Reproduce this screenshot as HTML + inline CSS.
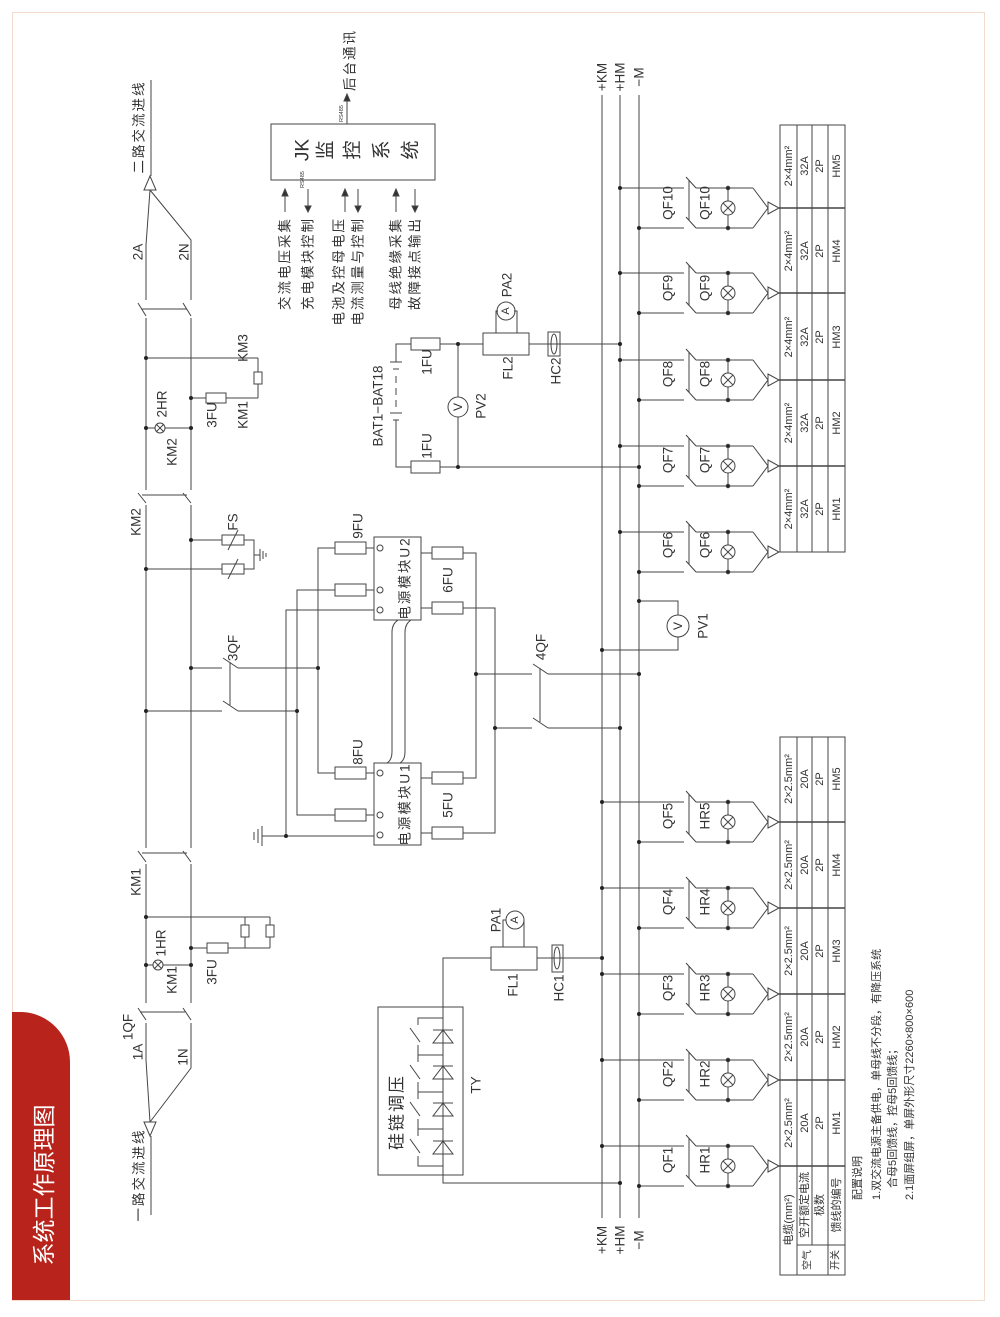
<!DOCTYPE html>
<html><head><meta charset="utf-8"><style>
html,body{margin:0;padding:0;background:#fff}
svg{display:block}
text{font-family:"Liberation Sans","Noto Sans CJK SC",sans-serif;fill:#333}
.cn{letter-spacing:2px}
</style></head><body>
<svg width="1000" height="1317" viewBox="0 0 1000 1317" xmlns="http://www.w3.org/2000/svg">
<defs>
<g id="fd" stroke="#444" stroke-width="1" fill="none">
 <line x1="645" y1="-20" x2="684" y2="-20"/><line x1="645" y1="20" x2="684" y2="20"/>
 <line x1="686" y1="-31" x2="696" y2="-20"/><line x1="686" y1="9" x2="696" y2="20"/>
 <line x1="689" y1="-28" x2="689" y2="12"/>
 <line x1="696" y1="-20" x2="753" y2="-20"/><line x1="696" y1="20" x2="753" y2="20"/>
 <line x1="753" y1="-20" x2="768" y2="0"/><line x1="753" y1="20" x2="768" y2="0"/>
 <polygon points="768,-6 768,6 779,0"/>
 <line x1="728" y1="-20" x2="728" y2="-7"/><line x1="728" y1="7" x2="728" y2="20"/>
 <circle cx="728" cy="0" r="7"/><line x1="723" y1="-5" x2="733" y2="5"/><line x1="723" y1="5" x2="733" y2="-5"/>
 <circle cx="728" cy="-20" r="1.8" fill="#222"/><circle cx="728" cy="20" r="1.8" fill="#222"/>
</g>
</defs>
<rect x="12.5" y="12.5" width="972" height="1288" fill="none" stroke="#f3dccd"/>
<path d="M12 1300 V1012 H22 A50 50 0 0 1 70 1062 V1300 Z" fill="#b8241c"/>
<text transform="translate(44,1185) rotate(-90)" text-anchor="middle" dominant-baseline="central" style="font-size:23px;fill:#fff">系统工作原理图</text>

<g stroke="#444" stroke-width="1" fill="none">
<line x1="602" y1="95" x2="602" y2="1218"/><line x1="620" y1="95" x2="620" y2="1218"/><line x1="639" y1="95" x2="639" y2="1218"/>
<line x1="151" y1="80" x2="151" y2="176"/>
<polygon points="150,176 144,190 156,190"/>
<polyline points="150,190 146,245 146,300"/><polyline points="150,190 191,240 191,300"/>
<line x1="138" y1="303" x2="146" y2="316"/><line x1="183" y1="303" x2="191" y2="316"/><line x1="142" y1="309" x2="187" y2="309"/>
<line x1="146" y1="318" x2="146" y2="490"/><line x1="191" y1="318" x2="191" y2="490"/>
<line x1="138" y1="493" x2="146" y2="503"/><line x1="183" y1="493" x2="191" y2="503"/><line x1="142" y1="495" x2="187" y2="495"/>
<line x1="146" y1="505" x2="146" y2="848"/><line x1="191" y1="505" x2="191" y2="848"/>
<line x1="138" y1="851" x2="146" y2="862"/><line x1="183" y1="851" x2="191" y2="862"/><line x1="142" y1="853" x2="187" y2="853"/>
<line x1="146" y1="864" x2="146" y2="1003"/><line x1="191" y1="864" x2="191" y2="1003"/>
<line x1="138" y1="1008" x2="146" y2="1020"/><line x1="183" y1="1008" x2="191" y2="1020"/><line x1="140" y1="1012" x2="185" y2="1012"/>
<polyline points="146,1023 146,1060 150,1122"/><polyline points="191,1023 191,1068 150,1122"/>
<polygon points="150,1136 144,1122 156,1122"/>
<line x1="151" y1="1136" x2="151" y2="1215"/>
<line x1="146" y1="358" x2="258" y2="358"/><line x1="258" y1="358" x2="258" y2="372"/><rect x="254" y="372" width="8" height="12"/><line x1="258" y1="384" x2="258" y2="398"/>
<line x1="191" y1="398" x2="206" y2="398"/><rect x="206" y="393" width="20" height="10"/><line x1="226" y1="398" x2="258" y2="398"/>
<line x1="146" y1="428" x2="155" y2="428"/><line x1="165" y1="428" x2="191" y2="428"/>
<circle cx="160" cy="428" r="5"/><line x1="156.5" y1="424.5" x2="163.5" y2="431.5"/><line x1="156.5" y1="431.5" x2="163.5" y2="424.5"/>
<line x1="191" y1="540" x2="222" y2="540"/><rect x="222" y="535" width="22" height="10"/><line x1="228" y1="550" x2="238" y2="530"/>
<line x1="146" y1="569" x2="222" y2="569"/><rect x="222" y="564" width="22" height="10"/><line x1="228" y1="579" x2="238" y2="559"/>
<polyline points="244,540 254,540 254,569 244,569"/><line x1="254" y1="555" x2="260" y2="555"/><line x1="260" y1="549" x2="260" y2="561"/><line x1="263" y1="551" x2="263" y2="559"/><line x1="266" y1="553" x2="266" y2="557"/>
<line x1="191" y1="668" x2="222" y2="668"/><line x1="146" y1="711" x2="222" y2="711"/>
<line x1="223" y1="658" x2="238" y2="668"/><line x1="223" y1="701" x2="238" y2="711"/><line x1="230" y1="662" x2="230" y2="705"/>
<line x1="238" y1="668" x2="318" y2="668"/><line x1="238" y1="711" x2="297" y2="711"/>
<polyline points="335,548 318,548 318,773 335,773"/>
<polyline points="335,590 297,590 297,815 335,815"/>
<polyline points="374,610 286,610 286,836 374,836"/>
<line x1="286" y1="836" x2="262" y2="836"/><line x1="262" y1="826" x2="262" y2="846"/><line x1="258" y1="829" x2="258" y2="843"/><line x1="254" y1="832" x2="254" y2="840"/>
<rect x="335" y="542" width="31" height="12"/><rect x="335" y="584" width="31" height="12"/><rect x="335" y="767" width="31" height="12"/><rect x="335" y="809" width="31" height="12"/>
<line x1="366" y1="548" x2="374" y2="548"/><line x1="366" y1="590" x2="374" y2="590"/><line x1="366" y1="773" x2="374" y2="773"/><line x1="366" y1="815" x2="374" y2="815"/>
<rect x="374" y="537" width="47" height="83"/><rect x="374" y="763" width="47" height="82"/>
<circle cx="380" cy="548" r="3"/><circle cx="380" cy="590" r="3"/><circle cx="380" cy="610" r="3"/>
<circle cx="380" cy="773" r="3"/><circle cx="380" cy="815" r="3"/><circle cx="380" cy="835" r="3"/>
<path d="M398 620 Q392 624 392 632 V752 Q392 760 387 763"/><path d="M411 620 Q405 624 405 632 V752 Q405 760 400 763"/>
<rect x="432" y="547" width="31" height="12"/><rect x="432" y="602" width="31" height="12"/><rect x="432" y="772" width="31" height="12"/><rect x="432" y="827" width="31" height="12"/>
<line x1="421" y1="553" x2="432" y2="553"/><line x1="421" y1="608" x2="432" y2="608"/><line x1="421" y1="778" x2="432" y2="778"/><line x1="421" y1="833" x2="432" y2="833"/>
<polyline points="463,553 476,553 476,778 463,778"/><polyline points="463,608 495,608 495,833 463,833"/>
<line x1="476" y1="674" x2="532" y2="674"/><line x1="495" y1="728" x2="532" y2="728"/>
<line x1="533" y1="664" x2="548" y2="674"/><line x1="533" y1="718" x2="548" y2="728"/><line x1="540" y1="668" x2="540" y2="722"/>
<line x1="548" y1="674" x2="639" y2="674"/><line x1="548" y1="728" x2="620" y2="728"/>
<polyline points="639,601 678,601 678,615"/><circle cx="678" cy="626" r="11"/><polyline points="678,637 678,650 602,650"/>
<rect x="271" y="124" width="164" height="56"/>
<line x1="347" y1="124" x2="347" y2="100"/><polygon points="344,101 350,101 347,94" fill="#333"/>
<line x1="285" y1="212" x2="285" y2="195"/><polygon points="282,196 288,196 285,189" fill="#333"/>
<line x1="308" y1="189" x2="308" y2="206"/><polygon points="305,206 311,206 308,212" fill="#333"/>
<line x1="345" y1="212" x2="345" y2="195"/><polygon points="342,196 348,196 345,189" fill="#333"/>
<line x1="358" y1="189" x2="358" y2="206"/><polygon points="355,206 361,206 358,212" fill="#333"/>
<line x1="396" y1="212" x2="396" y2="195"/><polygon points="393,196 399,196 396,189" fill="#333"/>
<line x1="415" y1="189" x2="415" y2="206"/><polygon points="412,206 418,206 415,212" fill="#333"/>
<polyline points="411,344 396,344 396,362"/><line x1="390" y1="362" x2="402" y2="362"/><line x1="393" y1="369" x2="399" y2="369"/>
<line x1="396" y1="376" x2="396" y2="383"/><line x1="396" y1="388" x2="396" y2="395"/><line x1="396" y1="400" x2="396" y2="407"/>
<line x1="390" y1="413" x2="402" y2="413"/><line x1="393" y1="420" x2="399" y2="420"/><polyline points="396,420 396,467 411,467"/>
<rect x="411" y="338" width="29" height="12"/><rect x="411" y="461" width="29" height="12"/>
<line x1="440" y1="344" x2="483" y2="344"/><line x1="440" y1="467" x2="639" y2="467"/>
<line x1="458" y1="344" x2="458" y2="397"/><circle cx="458" cy="407" r="10"/><line x1="458" y1="417" x2="458" y2="467"/>
<rect x="483" y="333" width="46" height="22"/><polyline points="496,333 496,311 498,311"/><polyline points="517,333 517,311 514,311"/><circle cx="506" cy="311" r="9"/>
<line x1="529" y1="344" x2="620" y2="344"/><rect x="548" y="332" width="12" height="24"/><ellipse cx="554" cy="344" rx="3" ry="10"/>
<rect x="378" y="1007" width="85" height="168"/>
<polyline points="491,958 443,958 443,1183 620,1183"/>
<rect x="491" y="947" width="46" height="23"/><polyline points="503,947 503,920 506,920"/><polyline points="524,947 524,920"/><circle cx="515" cy="920" r="9"/>
<line x1="537" y1="958" x2="602" y2="958"/><rect x="552" y="945" width="11" height="27"/><ellipse cx="557" cy="958" rx="3" ry="11"/>
<polygon points="433,1043 453,1043 443,1030"/><line x1="433" y1="1030" x2="453" y2="1030"/>
<polygon points="433,1079 453,1079 443,1066"/><line x1="433" y1="1066" x2="453" y2="1066"/>
<polygon points="433,1116 453,1116 443,1103"/><line x1="433" y1="1103" x2="453" y2="1103"/>
<polygon points="433,1154 453,1154 443,1141"/><line x1="433" y1="1141" x2="453" y2="1141"/>
<polyline points="443,1018 418,1018 418,1025"/><line x1="410" y1="1028" x2="420" y2="1042"/><polyline points="418,1045 418,1055 443,1055"/>
<polyline points="418,1055 418,1062"/><line x1="410" y1="1065" x2="420" y2="1079"/><polyline points="418,1082 418,1092 443,1092"/>
<polyline points="418,1092 418,1099"/><line x1="410" y1="1102" x2="420" y2="1116"/><polyline points="418,1119 418,1129 443,1129"/>
<polyline points="418,1129 418,1136"/><line x1="410" y1="1139" x2="420" y2="1153"/><polyline points="418,1156 418,1166 443,1166"/>
<line x1="146" y1="917" x2="270" y2="917"/><line x1="245" y1="917" x2="245" y2="925"/><rect x="241" y="925" width="8" height="12"/><line x1="245" y1="937" x2="245" y2="948"/>
<line x1="270" y1="917" x2="270" y2="925"/><rect x="266" y="925" width="8" height="12"/><line x1="270" y1="937" x2="270" y2="948"/>
<line x1="191" y1="948" x2="207" y2="948"/><rect x="207" y="943" width="21" height="10"/><line x1="228" y1="948" x2="270" y2="948"/>
<line x1="146" y1="965" x2="153" y2="965"/><line x1="163" y1="965" x2="191" y2="965"/><circle cx="158" cy="965" r="5"/><line x1="154.5" y1="961.5" x2="161.5" y2="968.5"/><line x1="154.5" y1="968.5" x2="161.5" y2="961.5"/>
<line x1="620" y1="532" x2="645" y2="532"/><line x1="639" y1="572" x2="645" y2="572"/>
<line x1="620" y1="446" x2="645" y2="446"/><line x1="639" y1="486" x2="645" y2="486"/>
<line x1="620" y1="360" x2="645" y2="360"/><line x1="639" y1="400" x2="645" y2="400"/>
<line x1="620" y1="273" x2="645" y2="273"/><line x1="639" y1="313" x2="645" y2="313"/>
<line x1="620" y1="188" x2="645" y2="188"/><line x1="639" y1="228" x2="645" y2="228"/>
<line x1="602" y1="1146" x2="645" y2="1146"/><line x1="639" y1="1186" x2="645" y2="1186"/>
<line x1="602" y1="1060" x2="645" y2="1060"/><line x1="639" y1="1100" x2="645" y2="1100"/>
<line x1="602" y1="974" x2="645" y2="974"/><line x1="639" y1="1014" x2="645" y2="1014"/>
<line x1="602" y1="888" x2="645" y2="888"/><line x1="639" y1="928" x2="645" y2="928"/>
<line x1="602" y1="802" x2="645" y2="802"/><line x1="639" y1="842" x2="645" y2="842"/>
<rect x="780" y="125" width="65" height="427"/>
<line x1="797" y1="125" x2="797" y2="552"/><line x1="812" y1="125" x2="812" y2="552"/><line x1="828" y1="125" x2="828" y2="552"/>
<line x1="779" y1="208" x2="845" y2="208" stroke-width="1.6"/><line x1="779" y1="293" x2="845" y2="293" stroke-width="1.6"/><line x1="779" y1="380" x2="845" y2="380" stroke-width="1.6"/><line x1="779" y1="466" x2="845" y2="466" stroke-width="1.6"/>
<rect x="780" y="737" width="65" height="538"/>
<line x1="797" y1="737" x2="797" y2="1275"/><line x1="812" y1="737" x2="812" y2="1245"/><line x1="828" y1="737" x2="828" y2="1275"/>
<line x1="779" y1="822" x2="845" y2="822" stroke-width="1.6"/><line x1="779" y1="908" x2="845" y2="908" stroke-width="1.6"/><line x1="779" y1="994" x2="845" y2="994" stroke-width="1.6"/><line x1="779" y1="1080" x2="845" y2="1080" stroke-width="1.6"/><line x1="779" y1="1166" x2="845" y2="1166" stroke-width="1.6"/>
<line x1="797" y1="1245" x2="845" y2="1245"/>
</g>
<use href="#fd" y="552"/><use href="#fd" y="466"/><use href="#fd" y="380"/><use href="#fd" y="293"/><use href="#fd" y="208"/>
<use href="#fd" y="1166"/><use href="#fd" y="1080"/><use href="#fd" y="994"/><use href="#fd" y="908"/><use href="#fd" y="822"/>
<g fill="#222">
<circle cx="620" cy="532" r="2"/><circle cx="639" cy="572" r="2"/><circle cx="620" cy="446" r="2"/><circle cx="639" cy="486" r="2"/><circle cx="620" cy="360" r="2"/><circle cx="639" cy="400" r="2"/><circle cx="620" cy="273" r="2"/><circle cx="639" cy="313" r="2"/><circle cx="620" cy="188" r="2"/><circle cx="639" cy="228" r="2"/>
<circle cx="602" cy="1146" r="2"/><circle cx="639" cy="1186" r="2"/><circle cx="602" cy="1060" r="2"/><circle cx="639" cy="1100" r="2"/><circle cx="602" cy="974" r="2"/><circle cx="639" cy="1014" r="2"/><circle cx="602" cy="888" r="2"/><circle cx="639" cy="928" r="2"/><circle cx="602" cy="802" r="2"/><circle cx="639" cy="842" r="2"/>
<circle cx="639" cy="601" r="2"/><circle cx="602" cy="650" r="2"/><circle cx="639" cy="674" r="2"/><circle cx="620" cy="728" r="2"/><circle cx="620" cy="344" r="2"/><circle cx="639" cy="467" r="2"/><circle cx="602" cy="958" r="2"/><circle cx="620" cy="1183" r="2"/>
<circle cx="458" cy="344" r="2"/><circle cx="458" cy="467" r="2"/><circle cx="476" cy="674" r="2"/><circle cx="495" cy="728" r="2"/><circle cx="318" cy="668" r="2"/><circle cx="297" cy="711" r="2"/><circle cx="286" cy="836" r="2"/>
<circle cx="146" cy="358" r="2"/><circle cx="191" cy="398" r="2"/><circle cx="191" cy="540" r="2"/><circle cx="146" cy="569" r="2"/><circle cx="191" cy="668" r="2"/><circle cx="146" cy="711" r="2"/><circle cx="146" cy="917" r="2"/><circle cx="191" cy="948" r="2"/><circle cx="191" cy="965" r="2"/><circle cx="146" cy="965" r="2"/><circle cx="146" cy="428" r="2"/><circle cx="191" cy="428" r="2"/>
</g>

<g style="font-size:13.5px" text-anchor="middle" dominant-baseline="central">
<text class="cn" transform="translate(139,127) rotate(-90)">二路交流进线</text>
<text class="cn" transform="translate(139,1175) rotate(-90)">一路交流进线</text>
<text transform="translate(138,252) rotate(-90)">2A</text><text transform="translate(184,252) rotate(-90)">2N</text>
<text transform="translate(136,522) rotate(-90)">KM2</text><text transform="translate(136,882) rotate(-90)">KM1</text>
<text transform="translate(138,1052) rotate(-90)">1A</text><text transform="translate(128,1027) rotate(-90)">1QF</text><text transform="translate(183,1057) rotate(-90)">1N</text>
<text transform="translate(162,404) rotate(-90)">2HR</text><text transform="translate(172,452) rotate(-90)">KM2</text>
<text transform="translate(212,415) rotate(-90)">3FU</text><text transform="translate(243,348) rotate(-90)">KM3</text><text transform="translate(243,415) rotate(-90)">KM1</text>
<text transform="translate(161,943) rotate(-90)">1HR</text><text transform="translate(172,980) rotate(-90)">KM1</text><text transform="translate(212,972) rotate(-90)">3FU</text>
<text transform="translate(233,522) rotate(-90)">FS</text><text transform="translate(233,648) rotate(-90)">3QF</text>
<text transform="translate(358,526) rotate(-90)">9FU</text><text transform="translate(358,752) rotate(-90)">8FU</text>
<text transform="translate(448,580) rotate(-90)">6FU</text><text transform="translate(448,805) rotate(-90)">5FU</text>
<text class="cn" transform="translate(405,578) rotate(-90)">电源模块U2</text><text class="cn" transform="translate(405,804) rotate(-90)">电源模块U1</text>
<text transform="translate(541,647) rotate(-90)">4QF</text>
<text transform="translate(703,626) rotate(-90)">PV1</text><text transform="translate(678,626) rotate(-90)" style="font-size:12px">V</text>
<text transform="translate(378,406) rotate(-90)">BAT1−BAT18</text>
<text transform="translate(427,362) rotate(-90)">1FU</text><text transform="translate(427,446) rotate(-90)">1FU</text>
<text transform="translate(458,407) rotate(-90)" style="font-size:12px">V</text><text transform="translate(481,406) rotate(-90)">PV2</text>
<text transform="translate(508,368) rotate(-90)">FL2</text><text transform="translate(556,371) rotate(-90)">HC2</text>
<text transform="translate(506,311) rotate(-90)" style="font-size:11px">A</text><text transform="translate(507,285) rotate(-90)">PA2</text>
<text transform="translate(513,985) rotate(-90)">FL1</text><text transform="translate(559,988) rotate(-90)">HC1</text>
<text transform="translate(515,920) rotate(-90)" style="font-size:11px">A</text><text transform="translate(496,920) rotate(-90)">PA1</text>
<text class="cn" transform="translate(397,1112) rotate(-90)" style="font-size:17px">硅链调压</text><text transform="translate(476,1085) rotate(-90)">TY</text>
<text transform="translate(303,150) rotate(-90)" style="font-size:19px">JK</text>
<text transform="translate(326,150) rotate(-90)" style="font-size:19px">监</text>
<text transform="translate(353,150) rotate(-90)" style="font-size:19px">控</text>
<text transform="translate(382,150) rotate(-90)" style="font-size:19px">系</text>
<text transform="translate(411,150) rotate(-90)" style="font-size:19px">统</text>
<text class="cn" text-anchor="start" transform="translate(350,91) rotate(-90)">后台通讯</text>
</g>
<g style="font-size:13.5px" text-anchor="end" dominant-baseline="central" class="cn">
<text transform="translate(285,217) rotate(-90)">交流电压采集</text>
<text transform="translate(308,217) rotate(-90)">充电模块控制</text>
<text transform="translate(339,217) rotate(-90)">电池及控母电压</text>
<text transform="translate(358,217) rotate(-90)">电流测量与控制</text>
<text transform="translate(396,217) rotate(-90)">母线绝缘采集</text>
<text transform="translate(415,217) rotate(-90)">故障接点输出</text>
</g>
<g style="font-size:13.5px" text-anchor="middle" dominant-baseline="central">
<text transform="translate(602,77) rotate(-90)">+KM</text><text transform="translate(620,77) rotate(-90)">+HM</text><text transform="translate(639,77) rotate(-90)">−M</text>
<text transform="translate(602,1240) rotate(-90)">+KM</text><text transform="translate(620,1240) rotate(-90)">+HM</text><text transform="translate(639,1240) rotate(-90)">−M</text>
<text transform="translate(668,545) rotate(-90)">QF6</text><text transform="translate(705,545) rotate(-90)">QF6</text>
<text transform="translate(668,460) rotate(-90)">QF7</text><text transform="translate(705,460) rotate(-90)">QF7</text>
<text transform="translate(668,374) rotate(-90)">QF8</text><text transform="translate(705,374) rotate(-90)">QF8</text>
<text transform="translate(668,288) rotate(-90)">QF9</text><text transform="translate(705,288) rotate(-90)">QF9</text>
<text transform="translate(668,203) rotate(-90)">QF10</text><text transform="translate(705,203) rotate(-90)">QF10</text>
<text transform="translate(668,1160) rotate(-90)">QF1</text><text transform="translate(705,1160) rotate(-90)">HR1</text>
<text transform="translate(668,1074) rotate(-90)">QF2</text><text transform="translate(705,1074) rotate(-90)">HR2</text>
<text transform="translate(668,988) rotate(-90)">QF3</text><text transform="translate(705,988) rotate(-90)">HR3</text>
<text transform="translate(668,902) rotate(-90)">QF4</text><text transform="translate(705,902) rotate(-90)">HR4</text>
<text transform="translate(668,816) rotate(-90)">QF5</text><text transform="translate(705,816) rotate(-90)">HR5</text>
</g>
<g style="font-size:11px" text-anchor="middle" dominant-baseline="central">
<text transform="translate(789,509) rotate(-90)">2×4mm²</text><text transform="translate(805,509) rotate(-90)">32A</text><text transform="translate(820,509) rotate(-90)">2P</text><text transform="translate(837,509) rotate(-90)">HM1</text>
<text transform="translate(789,423) rotate(-90)">2×4mm²</text><text transform="translate(805,423) rotate(-90)">32A</text><text transform="translate(820,423) rotate(-90)">2P</text><text transform="translate(837,423) rotate(-90)">HM2</text>
<text transform="translate(789,337) rotate(-90)">2×4mm²</text><text transform="translate(805,337) rotate(-90)">32A</text><text transform="translate(820,337) rotate(-90)">2P</text><text transform="translate(837,337) rotate(-90)">HM3</text>
<text transform="translate(789,251) rotate(-90)">2×4mm²</text><text transform="translate(805,251) rotate(-90)">32A</text><text transform="translate(820,251) rotate(-90)">2P</text><text transform="translate(837,251) rotate(-90)">HM4</text>
<text transform="translate(789,166) rotate(-90)">2×4mm²</text><text transform="translate(805,166) rotate(-90)">32A</text><text transform="translate(820,166) rotate(-90)">2P</text><text transform="translate(837,166) rotate(-90)">HM5</text>
<text transform="translate(789,1123) rotate(-90)">2×2.5mm²</text><text transform="translate(805,1123) rotate(-90)">20A</text><text transform="translate(820,1123) rotate(-90)">2P</text><text transform="translate(837,1123) rotate(-90)">HM1</text>
<text transform="translate(789,1037) rotate(-90)">2×2.5mm²</text><text transform="translate(805,1037) rotate(-90)">20A</text><text transform="translate(820,1037) rotate(-90)">2P</text><text transform="translate(837,1037) rotate(-90)">HM2</text>
<text transform="translate(789,951) rotate(-90)">2×2.5mm²</text><text transform="translate(805,951) rotate(-90)">20A</text><text transform="translate(820,951) rotate(-90)">2P</text><text transform="translate(837,951) rotate(-90)">HM3</text>
<text transform="translate(789,865) rotate(-90)">2×2.5mm²</text><text transform="translate(805,865) rotate(-90)">20A</text><text transform="translate(820,865) rotate(-90)">2P</text><text transform="translate(837,865) rotate(-90)">HM4</text>
<text transform="translate(789,779) rotate(-90)">2×2.5mm²</text><text transform="translate(805,779) rotate(-90)">20A</text><text transform="translate(820,779) rotate(-90)">2P</text><text transform="translate(837,779) rotate(-90)">HM5</text>
<text transform="translate(789,1220) rotate(-90)">电缆(mm²)</text><text transform="translate(805,1205) rotate(-90)">空开额定电流</text><text transform="translate(820,1205) rotate(-90)">极数</text><text transform="translate(837,1205) rotate(-90)">馈线的编号</text>
<text transform="translate(808,1260) rotate(-90)" style="font-size:10px">空气</text><text transform="translate(836,1260) rotate(-90)" style="font-size:10px">开关</text>
</g>
<g style="font-size:11px" dominant-baseline="central">
<text transform="translate(858,1200) rotate(-90)">配置说明</text>
<text transform="translate(877,1200) rotate(-90)">1.双交流电源主备供电，单母线不分段，有降压系统</text>
<text transform="translate(893,1188) rotate(-90)">合母5回馈线，控母5回馈线；</text>
<text transform="translate(910,1200) rotate(-90)">2.1面屏组屏，单屏外形尺寸2260×800×600</text>
<text transform="translate(342,122) rotate(-90)" style="font-size:5.5px">RS485</text>
<text transform="translate(303,188) rotate(-90)" style="font-size:5.5px">RS485</text>
</g>
</svg>
</body></html>
